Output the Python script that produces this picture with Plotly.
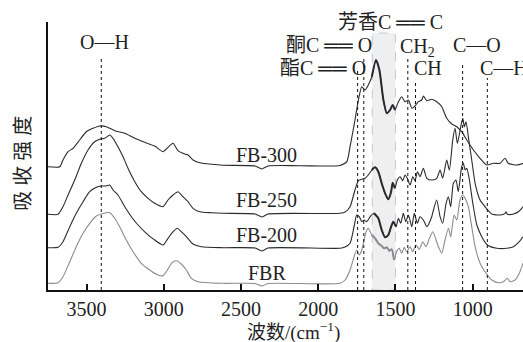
import numpy as np
import plotly.graph_objects as go

# ---------------- data (wavenumber cm-1, absorbance a.u., stacked) ----------------
wn_fb300 = [3750,3674,3653,3620,3588,3545,3502,3459,3415,3372,3318,3253,3188,3124,3059,3005,2973,2940,2908,2865,2843,2811,2767,2692,2617,2409,2366,2325,2118,1859,1815,1794,1762,1740,1718,1697,1676,1653,1626,1604,1578,1556,1535,1518,1503,1481,1459,1438,1416,1394,1373,1352,1330,1319,1297,1265,1233,1200,1168,1135,1103,1071,1038,995,952,909,866,823,790,769,714,672]
a_fb300 = [1.233,1.233,1.30,1.383,1.417,1.50,1.583,1.617,1.64,1.633,1.593,1.567,1.517,1.477,1.44,1.383,1.427,1.467,1.393,1.36,1.35,1.30,1.273,1.257,1.247,1.24,1.21,1.24,1.243,1.245,1.283,1.433,1.70,1.90,2.033,2.00,2.05,2.133,2.30,2.20,1.90,1.767,1.80,1.85,1.80,1.883,1.933,1.883,1.90,1.817,1.84,1.883,1.90,1.94,1.893,1.907,1.883,1.833,1.717,1.66,1.633,1.583,1.50,1.40,1.317,1.25,1.267,1.267,1.317,1.267,1.25,1.267]

wn_fb250 = [3750,3685,3653,3620,3577,3534,3491,3448,3415,3383,3350,3329,3297,3264,3232,3188,3146,3102,3059,3005,2973,2940,2908,2876,2843,2811,2767,2692,2617,2409,2366,2325,1859,1826,1794,1762,1740,1718,1697,1676,1653,1632,1611,1589,1567,1546,1528,1518,1503,1488,1470,1453,1438,1423,1405,1388,1373,1358,1341,1319,1297,1265,1233,1211,1194,1168,1151,1129,1114,1099,1077,1064,1054,1043,1028,1006,984,952,920,876,823,790,784,775,736,704,682,670]
a_fb250 = [0.757,0.757,0.833,0.95,1.10,1.267,1.40,1.483,1.507,1.517,1.55,1.517,1.433,1.333,1.217,1.083,0.983,0.917,0.867,0.833,0.90,0.95,0.983,0.933,0.883,0.817,0.783,0.773,0.767,0.76,0.73,0.76,0.767,0.78,0.833,1.00,1.093,1.107,1.117,1.15,1.20,1.227,1.183,1.067,0.967,0.907,0.983,1.073,1.017,1.10,1.133,1.093,1.15,1.117,1.05,1.133,1.093,1.183,1.133,1.217,1.117,1.10,1.117,1.20,1.117,1.30,1.20,1.50,1.617,1.467,1.633,1.717,1.633,1.683,1.533,1.30,1.067,0.90,0.833,0.76,0.75,0.767,0.783,0.757,0.76,0.783,0.817,0.84]

wn_fb200 = [3750,3685,3653,3609,3567,3523,3480,3437,3405,3372,3350,3329,3297,3253,3210,3167,3113,3059,3005,2973,2940,2913,2887,2854,2811,2757,2617,2409,2366,2325,1859,1826,1794,1768,1751,1734,1718,1703,1686,1664,1639,1611,1589,1567,1546,1528,1514,1496,1481,1466,1449,1433,1416,1394,1378,1358,1341,1319,1297,1265,1254,1233,1211,1194,1172,1157,1142,1125,1108,1093,1071,1060,1049,1038,1021,999,973,941,905,844,779,736,698,675]
a_fb200 = [0.423,0.427,0.483,0.633,0.767,0.883,0.983,1.027,1.04,1.04,1.05,1.00,0.95,0.833,0.733,0.65,0.567,0.50,0.45,0.517,0.583,0.617,0.583,0.533,0.46,0.433,0.423,0.42,0.39,0.42,0.417,0.43,0.467,0.633,0.75,0.733,0.683,0.70,0.683,0.733,0.767,0.717,0.60,0.527,0.55,0.633,0.683,0.633,0.717,0.667,0.767,0.683,0.75,0.633,0.767,0.667,0.733,0.70,0.633,0.733,0.80,0.90,0.733,0.667,0.867,0.933,0.833,1.067,1.10,0.983,1.233,1.267,1.20,1.217,1.10,0.867,0.65,0.533,0.45,0.417,0.417,0.433,0.483,0.533]

wn_fbr = [3750,3685,3653,3609,3567,3523,3480,3437,3405,3372,3350,3318,3286,3243,3199,3146,3091,3038,3005,2977,2947,2919,2887,2854,2822,2778,2617,2409,2366,2325,1859,1826,1794,1768,1751,1734,1718,1690,1676,1653,1632,1611,1589,1574,1556,1540,1524,1509,1492,1475,1459,1444,1427,1405,1388,1367,1345,1323,1302,1280,1258,1237,1222,1200,1179,1157,1142,1120,1103,1082,1064,1049,1028,1006,984,952,913,876,834,801,775,758,725,698,675]
a_fbr = [0.067,0.073,0.133,0.283,0.433,0.567,0.667,0.74,0.76,0.773,0.773,0.717,0.633,0.50,0.383,0.267,0.20,0.15,0.143,0.20,0.273,0.293,0.26,0.20,0.117,0.083,0.067,0.065,0.04,0.065,0.067,0.10,0.20,0.333,0.40,0.35,0.40,0.583,0.617,0.55,0.517,0.467,0.44,0.417,0.427,0.393,0.407,0.30,0.383,0.417,0.367,0.427,0.383,0.433,0.383,0.45,0.407,0.483,0.433,0.517,0.583,0.50,0.433,0.367,0.50,0.617,0.533,0.75,0.70,0.90,0.95,0.917,0.833,0.633,0.433,0.267,0.167,0.10,0.073,0.083,0.117,0.083,0.10,0.167,0.267]

series_names = ["FB-300", "FB-250", "FB-200", "FBR"]

# band assignments (wavenumber positions of marker lines)
oh_wn = 3405
ester_wn = 1745
ketone_wn = 1705
aromatic_band = [1650, 1500]
ch2_wn = 1420
ch_wn = 1370
co_wn = 1065
ch_oop_wn = 905

x_ticks = [3500, 3000, 2500, 2000, 1500, 1000]
x_range = [3750, 674]

# ---------------- figure ----------------
FONT = "Liberation Serif, Times New Roman, Noto Sans CJK SC, serif"
fig = go.Figure()

series = [
    (wn_fb300, a_fb300, "#2b2b2b"),
    (wn_fb250, a_fb250, "#2b2b2b"),
    (wn_fb200, a_fb200, "#2b2b2b"),
    (wn_fbr, a_fbr, "#8c8c8c"),
]
for (wn, a, col), name in zip(series, series_names):
    fig.add_trace(go.Scatter(x=wn, y=a, mode="lines", name=name,
                             line=dict(color=col, width=1.1, shape="spline", smoothing=0.6),
                             showlegend=False, hoverinfo="skip"))
    wn_arr = np.array(wn); a_arr = np.array(a)
    m = (wn_arr <= aromatic_band[0] + 8) & (wn_arr >= aromatic_band[1] - 6)
    fig.add_trace(go.Scatter(x=wn_arr[m], y=a_arr[m], mode="lines",
                             line=dict(color=col, width=2.0, shape="spline", smoothing=0.6),
                             showlegend=False, hoverinfo="skip"))

shapes = []
# aromatic band shading
shapes.append(dict(type="rect", xref="x", yref="paper", x0=aromatic_band[0], x1=aromatic_band[1],
                   y0=0, y1=0.959, fillcolor="#edeff1",
                   line=dict(color="#c8c8c8", width=1, dash="dash"), layer="below"))
# dotted marker lines (x, top in paper units)
for xv, top in [(oh_wn, 0.869), (ester_wn, 0.828), (ketone_wn, 0.873), (ch2_wn, 0.869),
                (ch_wn, 0.784), (co_wn, 0.847), (ch_oop_wn, 0.791)]:
    shapes.append(dict(type="line", xref="x", yref="paper", x0=xv, x1=xv, y0=0, y1=top,
                       line=dict(color="#111111", width=1, dash="dot"), layer="above"))

ann = []
def txt(t, x, y, xanchor="center", size=20, **kw):
    ann.append(dict(text=t, x=x, y=y, xref="paper", yref="paper", xanchor=xanchor,
                    yanchor="middle", showarrow=False,
                    font=dict(family=FONT, size=size, color="#222222"), **kw))

txt("O—H", 0.119, 0.925)
txt("芳香C ══ C", 0.72, 1.0)
txt("酮C ══ O", 0.5916, 0.914)
txt("酯C ══ O", 0.578, 0.828)
txt("CH<sub>2</sub>", 0.737, 0.905, xanchor="left")
txt("C—O", 0.904, 0.914)
txt("CH", 0.766, 0.828, xanchor="left")
txt("C—H", 0.905, 0.828, xanchor="left")
# series labels
for name, yy in zip(series_names, [0.504, 0.336, 0.205, 0.063]):
    txt(name, 0.461, yy)
# axis titles
txt("波数/(cm<sup>−1</sup>)", 0.516, -0.155, size=19)
txt("吸 收 强 度", -0.053, 0.474, size=20, textangle=-90)

fig.update_layout(
    width=523, height=342,
    margin=dict(l=48, r=0, t=22, b=52),
    paper_bgcolor="white", plot_bgcolor="white",
    shapes=shapes, annotations=ann,
    xaxis=dict(range=x_range, tickvals=x_ticks, ticktext=[str(v) for v in x_ticks],
               showgrid=False, zeroline=False, showline=True, linecolor="#111111",
               linewidth=2, ticks="inside", ticklen=6, tickwidth=2, tickcolor="#111111",
               tickfont=dict(family=FONT, size=20, color="#222222")),
    yaxis=dict(range=[0, 2.68], showgrid=False, zeroline=False, showline=True,
               linecolor="#111111", linewidth=2, showticklabels=False, ticks=""),
)

fig.write_html("out.html", config={"displayModeBar": False, "staticPlot": True},
               post_script="document.body.style.margin='0px';document.body.style.overflow='hidden';")
